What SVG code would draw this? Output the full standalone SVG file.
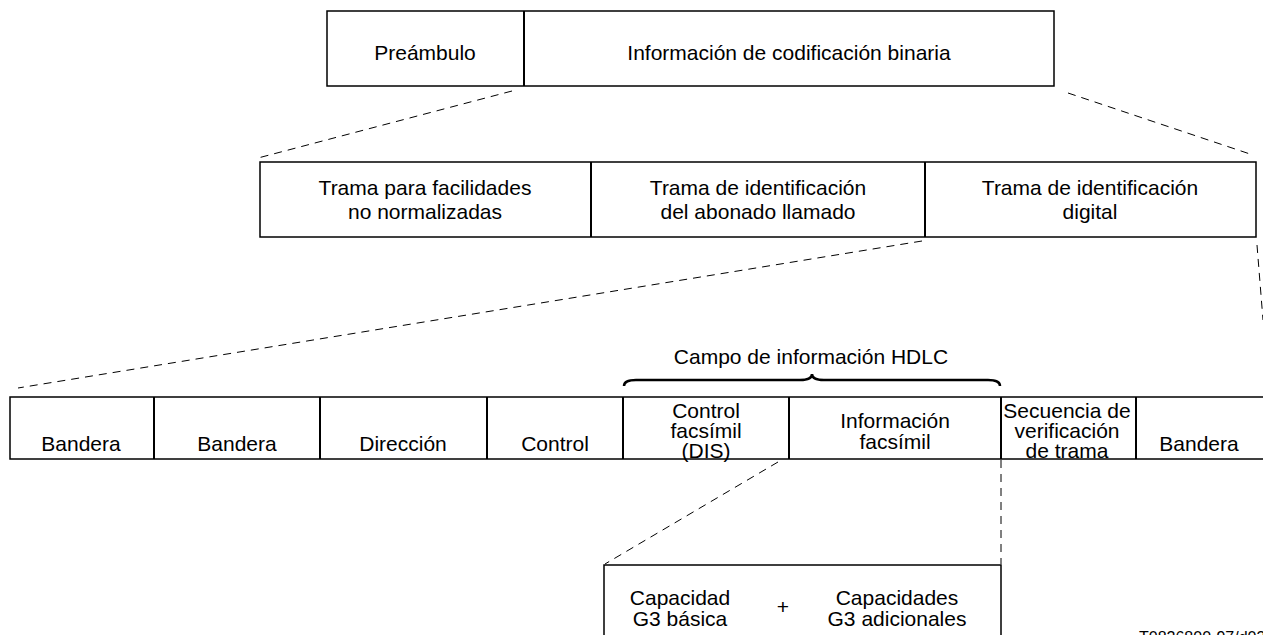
<svg xmlns="http://www.w3.org/2000/svg" width="1263" height="635" viewBox="0 0 1263 635">
<style>
.box{fill:#fff;stroke:#000;stroke-width:1.5}
.div{stroke:#000;stroke-width:2}
.dash{fill:none;stroke:#000;stroke-width:1;stroke-dasharray:8,6}
text{font-family:"Liberation Sans",Arial,sans-serif;font-size:21px;fill:#000;text-anchor:middle;dominant-baseline:central}
.small{font-size:16px;text-anchor:start;dominant-baseline:auto}
</style>
<rect width="1263" height="635" fill="#fff"/>
<g id="connectors">
<line class="dash" x1="512" y1="91" x2="258" y2="158"/>
<line class="dash" x1="1068" y1="93" x2="1250" y2="154"/>
<line class="dash" x1="922" y1="241" x2="18" y2="388"/>
<line class="dash" x1="1257" y1="245" x2="1263" y2="320"/>
<line class="dash" x1="778" y1="462" x2="605" y2="564"/>
<line class="dash" x1="1001" y1="460" x2="1001" y2="564"/>
</g>
<g id="top">
<rect class="box" x="327" y="11" width="727" height="75"/>
<line class="div" x1="524" y1="11" x2="524" y2="86"/>
<text x="425" y="52">Preámbulo</text>
<text x="789" y="52">Información de codificación binaria</text>
</g>
<g id="middle">
<rect class="box" x="260" y="162" width="996" height="75"/>
<line class="div" x1="591" y1="162" x2="591" y2="237"/>
<line class="div" x1="925" y1="162" x2="925" y2="237"/>
<text x="425" y="187">Trama para facilidades</text>
<text x="425" y="211">no normalizadas</text>
<text x="758" y="187">Trama de identificación</text>
<text x="758" y="211">del abonado llamado</text>
<text x="1090" y="187">Trama de identificación</text>
<text x="1090" y="211">digital</text>
</g>
<g id="brace">
<path d="M624,386 Q624,380 636,380 L800,380 Q812,380 812,374 Q812,380 824,380 L988,380 Q1000,380 1000,386" fill="none" stroke="#000" stroke-width="2.5"/>
<text x="811" y="356">Campo de información HDLC</text>
</g>
<g id="frame">
<rect class="box" x="10" y="397" width="1260" height="62"/>
<line class="div" x1="154" y1="397" x2="154" y2="459"/>
<line class="div" x1="320" y1="397" x2="320" y2="459"/>
<line class="div" x1="487" y1="397" x2="487" y2="459"/>
<line class="div" x1="623" y1="397" x2="623" y2="459"/>
<line class="div" x1="789" y1="397" x2="789" y2="459"/>
<line class="div" x1="1001" y1="397" x2="1001" y2="459"/>
<line class="div" x1="1136" y1="397" x2="1136" y2="459"/>
<text x="81" y="443">Bandera</text>
<text x="237" y="443">Bandera</text>
<text x="403" y="443">Dirección</text>
<text x="555" y="443">Control</text>
<text x="706" y="410">Control</text>
<text x="706" y="430">facsímil</text>
<text x="706" y="450">(DIS)</text>
<text x="895" y="420">Información</text>
<text x="895" y="441">facsímil</text>
<text x="1067" y="410">Secuencia de</text>
<text x="1067" y="430">verificación</text>
<text x="1067" y="450">de trama</text>
<text x="1199" y="443">Bandera</text>
</g>
<g id="bottom">
<path class="box" d="M604,640 L604,565 L1001,565 L1001,640"/>
<text x="680" y="597">Capacidad</text>
<text x="680" y="618">G3 básica</text>
<text x="783" y="606">+</text>
<text x="897" y="597">Capacidades</text>
<text x="897" y="618">G3 adicionales</text>
</g>
<text class="small" x="1139" y="643">T0826800-97/d03</text>
</svg>
